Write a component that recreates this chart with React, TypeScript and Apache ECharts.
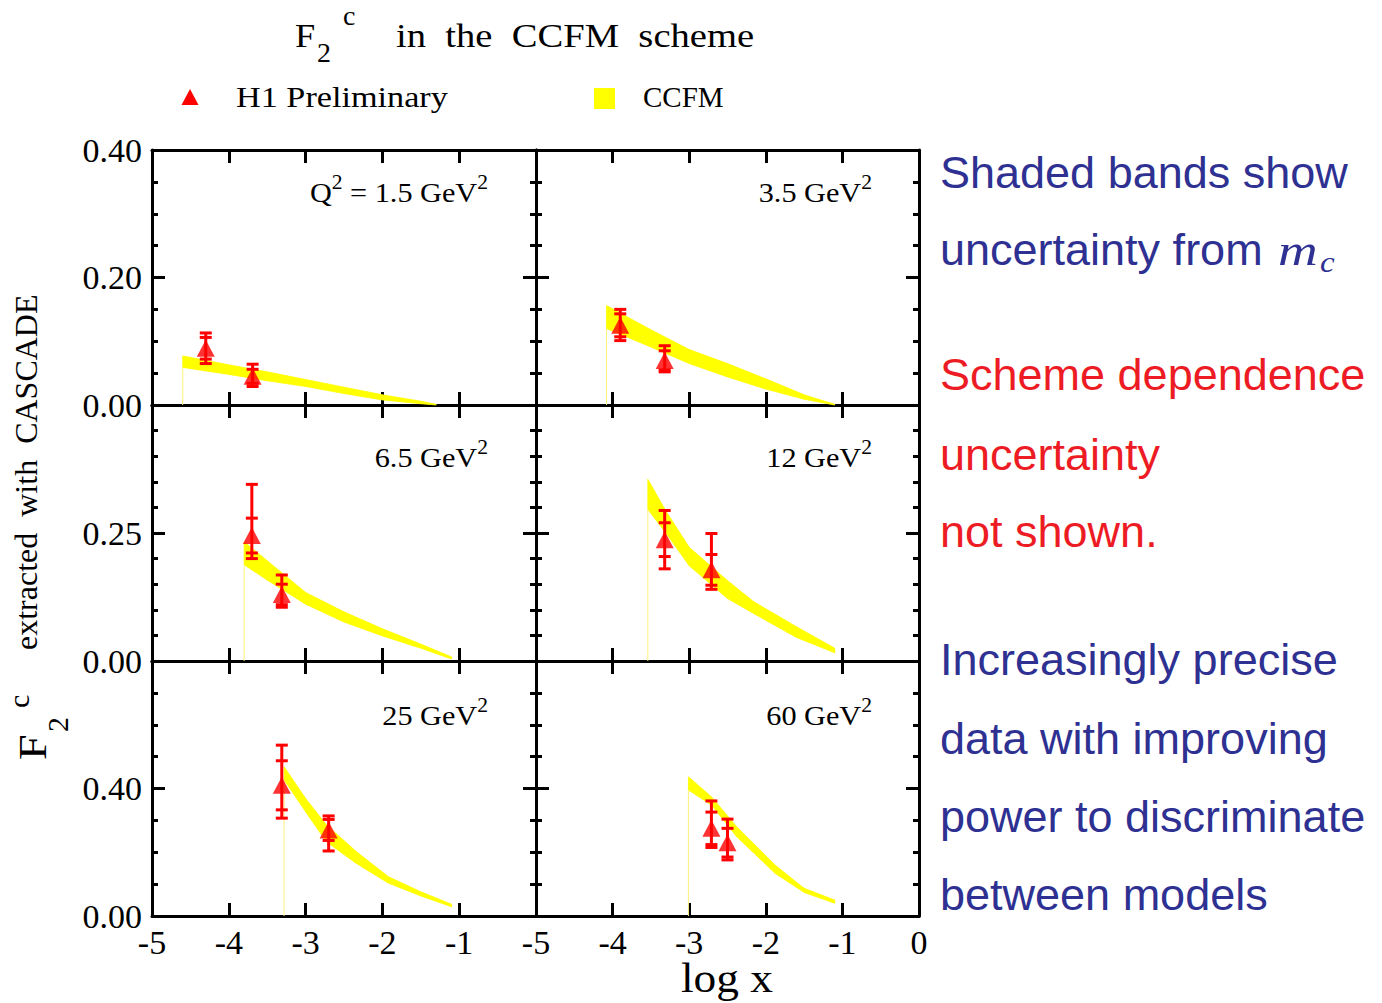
import React, { useEffect, useRef } from "react";
import * as echarts from "echarts";

const SERIF = "'Liberation Serif', 'Times New Roman', serif";
const SANS = "'Liberation Sans', Arial, sans-serif";
const BLUE = "#2E3192";
const RED_TXT = "#ED1C24";
const RED = "#FF0000";
const YELLOW = "#FFFF00";

// ---- axes ----
const Q2_VALUES = ["1.5", "3.5", "6.5", "12", "25", "60"];
const Y_MAX = [0.4, 0.4, 0.5, 0.5, 0.8, 0.8];
const Y_STEP = [0.2, 0.2, 0.25, 0.25, 0.4, 0.4];
const Y_MINOR_SPLIT = [4, 4, 5, 5, 4, 4];
const X_MIN = -5;
const X_MAX = 0;
const X_STEP = 1;

// ---- CCFM bands (log x, lower, upper) ----
const BAND1_X = [-4.6, -4.0, -3.5, -3.0, -2.5, -2.0, -1.5, -1.3];
const BAND1_LO = [0.059, 0.048, 0.038, 0.029, 0.018, 0.008, 0.002, 0.0];
const BAND1_HI = [0.077, 0.063, 0.052, 0.04, 0.028, 0.016, 0.006, 0.001];

const BAND2_X = [-4.08, -3.5, -3.0, -2.5, -2.0, -1.5, -1.1];
const BAND2_LO = [0.12, 0.091, 0.065, 0.044, 0.025, 0.009, 0.0];
const BAND2_HI = [0.156, 0.118, 0.087, 0.065, 0.041, 0.016, 0.001];

const BAND3_X = [-3.8, -3.5, -3.0, -2.5, -2.0, -1.5, -1.1];
const BAND3_LO = [0.188, 0.158, 0.111, 0.076, 0.049, 0.025, 0.004];
const BAND3_HI = [0.233, 0.196, 0.134, 0.096, 0.063, 0.033, 0.008];

const BAND4_X = [-3.54, -3.3, -3.0, -2.5, -2.16, -1.6, -1.1];
const BAND4_LO = [0.296, 0.249, 0.186, 0.122, 0.093, 0.046, 0.016];
const BAND4_HI = [0.355, 0.292, 0.222, 0.157, 0.116, 0.067, 0.025];

const BAND5_X = [-3.28, -3.0, -2.73, -2.34, -1.92, -1.5, -1.1];
const BAND5_LO = [0.427, 0.327, 0.233, 0.165, 0.103, 0.063, 0.029];
const BAND5_HI = [0.468, 0.369, 0.286, 0.202, 0.123, 0.076, 0.037];

const BAND6_X = [-3.01, -2.71, -2.38, -1.88, -1.5, -1.1];
const BAND6_LO = [0.395, 0.348, 0.249, 0.134, 0.074, 0.04];
const BAND6_HI = [0.437, 0.374, 0.28, 0.16, 0.087, 0.05];

// ---- H1 preliminary points (log x, F2c, stat err, total err up, total err down) ----
const H1_1_X = [-4.3, -3.69];
const H1_1_Y = [0.089, 0.045];
const H1_1_STAT = [0.017, 0.011];
const H1_1_UP = [0.024, 0.019];
const H1_1_DN = [0.024, 0.016];

const H1_2_X = [-3.9, -3.32];
const H1_2_Y = [0.125, 0.07];
const H1_2_STAT = [0.018, 0.015];
const H1_2_UP = [0.025, 0.023];
const H1_2_DN = [0.024, 0.018];

const H1_3_X = [-3.7, -3.31];
const H1_3_Y = [0.245, 0.13];
const H1_3_STAT = [0.034, 0.02];
const H1_3_UP = [0.1, 0.038];
const H1_3_DN = [0.045, 0.025];

const H1_4_X = [-3.32, -2.71];
const H1_4_Y = [0.237, 0.178];
const H1_4_STAT = [0.033, 0.03];
const H1_4_UP = [0.057, 0.071];
const H1_4_DN = [0.057, 0.038];

const H1_5_X = [-3.31, -2.7];
const H1_5_Y = [0.41, 0.27];
const H1_5_STAT = [0.077, 0.033];
const H1_5_UP = [0.126, 0.044];
const H1_5_DN = [0.103, 0.066];

const H1_6_X = [-2.71, -2.5];
const H1_6_Y = [0.275, 0.23];
const H1_6_STAT = [0.051, 0.045];
const H1_6_UP = [0.086, 0.074];
const H1_6_DN = [0.06, 0.054];

const BANDS = [
  [BAND1_X, BAND1_LO, BAND1_HI],
  [BAND2_X, BAND2_LO, BAND2_HI],
  [BAND3_X, BAND3_LO, BAND3_HI],
  [BAND4_X, BAND4_LO, BAND4_HI],
  [BAND5_X, BAND5_LO, BAND5_HI],
  [BAND6_X, BAND6_LO, BAND6_HI],
];
const POINTS = [
  [H1_1_X, H1_1_Y, H1_1_STAT, H1_1_UP, H1_1_DN],
  [H1_2_X, H1_2_Y, H1_2_STAT, H1_2_UP, H1_2_DN],
  [H1_3_X, H1_3_Y, H1_3_STAT, H1_3_UP, H1_3_DN],
  [H1_4_X, H1_4_Y, H1_4_STAT, H1_4_UP, H1_4_DN],
  [H1_5_X, H1_5_Y, H1_5_STAT, H1_5_UP, H1_5_DN],
  [H1_6_X, H1_6_Y, H1_6_STAT, H1_6_UP, H1_6_DN],
];

// ---- layout ----
const PANEL_LEFT = [152, 536];
const PANEL_WIDTH = [384, 383];
const PANEL_TOP = [150, 405, 661];
const PANEL_HEIGHT = [255, 256, 255];
const LABEL_RIGHT = [488, 872];
const LABEL_BASELINE = [202, 467, 725];

let measureCtx: CanvasRenderingContext2D | null = null;
function textWidth(text: string, font: string): number {
  if (!measureCtx) measureCtx = document.createElement("canvas").getContext("2d");
  measureCtx!.font = font;
  return measureCtx!.measureText(text).width;
}

type TxtOpts = { family?: string; fill?: string; italic?: boolean; scaleX?: number; align?: string };
function txt(text: string, x: number, baseline: number, size: number, opts: TxtOpts = {}) {
  const family = opts.family ?? SERIF;
  const mid = family === SANS ? 0.3465 : 0.3375;
  const align = opts.align ?? "left";
  return {
    type: "text",
    x,
    y: baseline - mid * size,
    scaleX: opts.scaleX ?? 1,
    z: 10,
    style: {
      text,
      font: `${opts.italic ? "italic " : ""}${size}px ${family}`,
      fill: opts.fill ?? "#000",
      textAlign: align,
      align,
      textVerticalAlign: "middle",
      verticalAlign: "middle",
    },
  };
}

function panelLabel(p: number) {
  const col = p % 2;
  const row = Math.floor(p / 2);
  const pieces: [string, number, number][] =
    p === 0
      ? [["Q", 28, 0], ["2", 20, -13], [" = " + Q2_VALUES[0] + " GeV", 28, 0], ["2", 20, -13]]
      : [[Q2_VALUES[p] + " GeV", 28, 0], ["2", 20, -13]];
  const sx = 1.08;
  const widths = pieces.map(([t, s]) => textWidth(t, `${s}px ${SERIF}`));
  const total = widths.reduce((a, b) => a + b, 0);
  let cx = LABEL_RIGHT[col] - total * sx;
  return pieces.map(([t, s, off], i) => {
    const el = txt(t, cx, LABEL_BASELINE[row] + off, s, { scaleX: sx });
    cx += widths[i] * sx;
    return el;
  });
}

function buildOption() {
  const grid: any[] = [];
  const xAxis: any[] = [];
  const yAxis: any[] = [];
  const series: any[] = [];
  const tickStyle = { color: "#000", width: 3 };
  const lineStyle = { color: "#000", width: 3 };
  const labelBase = { fontFamily: SERIF, fontSize: 34, color: "#000" };

  for (let p = 0; p < 6; p++) {
    const col = p % 2;
    const row = Math.floor(p / 2);
    grid.push({
      left: PANEL_LEFT[col],
      top: PANEL_TOP[row],
      width: PANEL_WIDTH[col],
      height: PANEL_HEIGHT[row],
    });
    const xCommon = {
      gridIndex: p,
      type: "value",
      min: X_MIN,
      max: X_MAX,
      interval: X_STEP,
      axisLine: { show: true, onZero: false, lineStyle },
      axisTick: { show: true, inside: true, length: 13, lineStyle: tickStyle },
      splitLine: { show: false },
    };
    xAxis.push({
      ...xCommon,
      position: "bottom",
      axisLabel: {
        ...labelBase,
        show: row === 2,
        margin: 11,
        lineHeight: 30,
        formatter: (v: number) => (col === 0 && v === X_MAX ? "" : String(v)),
      },
    });
    xAxis.push({ ...xCommon, position: "top", axisLabel: { show: false } });

    const yCommon = {
      gridIndex: p,
      type: "value",
      min: 0,
      max: Y_MAX[p],
      interval: Y_STEP[p],
      axisLine: { show: true, onZero: false, lineStyle },
      axisTick: { show: true, inside: true, length: 13, lineStyle: tickStyle },
      minorTick: { show: true, splitNumber: Y_MINOR_SPLIT[p], length: 6, lineStyle: tickStyle },
      splitLine: { show: false },
      minorSplitLine: { show: false },
    };
    yAxis.push({
      ...yCommon,
      position: "left",
      axisLabel: {
        ...labelBase,
        show: col === 0,
        margin: 10,
        formatter: (v: number) => (row > 0 && Math.abs(v - Y_MAX[p]) < 1e-9 ? "" : v.toFixed(2)),
      },
    });
    yAxis.push({ ...yCommon, position: "right", axisLabel: { show: false } });

    const [bx, lo, hi] = BANDS[p];
    const axes = { xAxisIndex: 2 * p, yAxisIndex: 2 * p };
    // CCFM band: one quadrilateral per segment between consecutive band points
    series.push({
      ...axes,
      type: "custom",
      z: 2,
      silent: true,
      encode: { x: 0, y: [1, 2] },
      data: bx.map((x, i) => [x, lo[i], hi[i]]),
      renderItem: (params: any, api: any) => {
        const i = params.dataIndexInside;
        const n = params.dataInsideLength;
        if (i >= n - 1) return null;
        const x0 = api.value(0, i);
        const l0 = api.value(1, i);
        const h0 = api.value(2, i);
        const x1 = api.value(0, i + 1);
        const l1 = api.value(1, i + 1);
        const h1 = api.value(2, i + 1);
        const pts = [api.coord([x0, h0]), api.coord([x1, h1]), api.coord([x1, l1]), api.coord([x0, l0])];
        return {
          type: "polygon",
          shape: { points: pts },
          style: { fill: YELLOW, stroke: YELLOW, lineWidth: 0.8 },
        };
      },
    });
    // thin edge line at the start of the band down to zero
    series.push({
      ...axes,
      type: "line",
      symbol: "none",
      silent: true,
      z: 2,
      lineStyle: { color: "#FFF27A", width: 1 },
      data: [
        [bx[0], 0],
        [bx[0], lo[0]],
      ],
    });

    const [px, py, ps, pu, pd] = POINTS[p];
    series.push({
      ...axes,
      type: "custom",
      z: 3,
      silent: true,
      encode: { x: 0, y: 1 },
      data: px.map((x, i) => [x, py[i], ps[i], pu[i], pd[i]]),
      renderItem: (_params: any, api: any) => {
        const x = api.value(0);
        const y = api.value(1);
        const s = api.value(2);
        const up = api.value(3);
        const dn = api.value(4);
        const top = api.coord([x, y + up]);
        const bot = api.coord([x, y - dn]);
        const sTop = api.coord([x, y + s]);
        const sBot = api.coord([x, y - s]);
        const st = { stroke: RED, lineWidth: 3 };
        const hw = 6;
        const cap = (c: number[]) => ({
          type: "line",
          shape: { x1: c[0] - hw, y1: c[1], x2: c[0] + hw, y2: c[1] },
          style: st,
        });
        return {
          type: "group",
          children: [
            { type: "line", shape: { x1: top[0], y1: top[1], x2: bot[0], y2: bot[1] }, style: st },
            cap(top),
            cap(bot),
            cap(sTop),
            cap(sBot),
          ],
        };
      },
    });
    series.push({
      ...axes,
      type: "scatter",
      z: 4,
      symbol: "triangle",
      symbolSize: [18, 17],
      itemStyle: { color: RED },
      data: px.map((x, i) => [x, py[i]]),
    });
  }

  const elements: any[] = [];
  // Title
  elements.push(txt("F", 295, 47, 33, { scaleX: 1.1 }));
  elements.push(txt("2", 317, 62, 28));
  elements.push(txt("c", 343, 25, 28));
  elements.push(txt("in  the  CCFM  scheme", 396, 47, 33, { scaleX: 1.17 }));
  // Legend
  elements.push({
    type: "polygon",
    shape: { points: [[190, 89], [198.5, 105], [181.5, 105]] },
    style: { fill: RED },
  });
  elements.push(txt("H1 Preliminary", 236, 107, 29, { scaleX: 1.18 }));
  elements.push({ type: "rect", shape: { x: 594, y: 88, width: 21, height: 21 }, style: { fill: YELLOW } });
  elements.push(txt("CCFM", 643, 107, 29));
  // Panel labels
  for (let p = 0; p < 6; p++) elements.push(...panelLabel(p));
  // Y axis title (rotated)
  elements.push({
    type: "group",
    x: 46,
    y: 760,
    rotation: Math.PI / 2,
    children: [
      txt("F", 0, 0, 40, { scaleX: 1.15 }),
      txt("2", 28, 22, 30),
      txt("c", 52, -17, 30),
      txt("extracted  with  CASCADE", 110, -9, 32),
    ],
  });
  // X axis title
  elements.push(txt("log x", 727, 992, 42, { align: "center", scaleX: 1.08 }));
  // Right-hand commentary
  const sans = (t: string, b: number, fill: string) => txt(t, 940, b, 45, { family: SANS, fill });
  elements.push(sans("Shaded bands show", 188, BLUE));
  elements.push(sans("uncertainty from", 265, BLUE));
  elements.push(txt("m", 1278, 265, 44, { italic: true, scaleX: 1.25, fill: BLUE }));
  elements.push(txt("c", 1320, 272, 30, { italic: true, scaleX: 1.1, fill: BLUE }));
  elements.push(sans("Scheme dependence", 390, RED_TXT));
  elements.push(sans("uncertainty", 470, RED_TXT));
  elements.push(sans("not shown.", 547, RED_TXT));
  elements.push(sans("Increasingly precise", 675, BLUE));
  elements.push(sans("data with improving", 754, BLUE));
  elements.push(sans("power to discriminate", 832, BLUE));
  elements.push(sans("between models", 910, BLUE));

  return {
    animation: false,
    backgroundColor: "#fff",
    grid,
    xAxis,
    yAxis,
    series,
    graphic: { elements },
  };
}

export default function App() {
  const ref = useRef<HTMLDivElement>(null);
  useEffect(() => {
    if (!ref.current) return;
    const chart = echarts.init(ref.current, null, { renderer: "svg" });
    chart.setOption(buildOption() as any);
    return () => chart.dispose();
  }, []);
  return (
    <div
      ref={ref}
      style={{ position: "fixed", left: 0, top: 0, width: 1382, height: 1003, background: "#fff" }}
    />
  );
}
